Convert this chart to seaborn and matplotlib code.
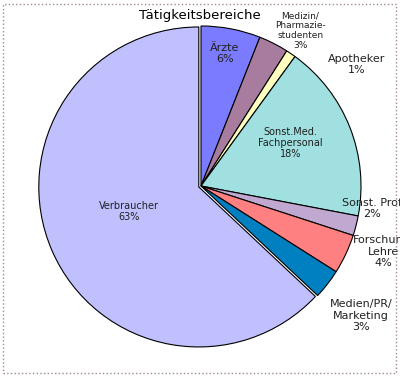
import matplotlib
matplotlib.use("Agg")
import matplotlib.pyplot as plt
import seaborn as sns
from matplotlib.patches import Rectangle

# Data
categories = ["Ärzte", "Medizin/\nPharmazie-\nstudenten", "Apotheker", "Sonst.Med.\nFachpersonal",
              "Sonst. Prof", "Forschung/\nLehre", "Medien/PR/\nMarketing", "Verbraucher"]
shares = [6, 3, 1, 18, 2, 4, 3, 63]
colors = ["#7b7bff", "#a87c9e", "#ffffc0", "#a0e0e0", "#c0a8d0", "#ff8080", "#0080c0", "#c0c0ff"]

# label layout (data coords of the pie axes) and font sizes
label_pos = [(0.15, 0.83), (0.62, 0.97), (0.97, 0.76), (0.56, 0.27),
             (1.07, -0.14), (1.14, -0.41), (1.00, -0.81), (-0.45, -0.16)]
label_size = [8, 6.5, 8, 7, 8, 8, 8, 7]
explode = [0, 0, 0, 0, 0, 0, 0, 0.015]

sns.set_theme(style="white")
plt.rcParams['font.family'] = ['DejaVu Sans']

fig = plt.figure(figsize=(4.0, 3.77), dpi=100)
r_px = 160
ax = fig.add_axes([(201 - r_px) / 400, (377 - 186 - r_px) / 377, 2 * r_px / 400, 2 * r_px / 377])
ax.pie(shares, colors=colors, startangle=90, counterclock=False, explode=explode,
       wedgeprops=dict(edgecolor="black", linewidth=0.8))
ax.set_xlim(-1, 1)
ax.set_ylim(-1, 1)
ax.set_aspect("equal")
ax.axis("off")

for name, val, (x, y), fs in zip(categories, shares, label_pos, label_size):
    ax.text(x, y, f"{name}\n{val}%", ha="center", va="center", fontsize=fs,
            color="#202020", linespacing=1.15, clip_on=False)

fig.text(0.5, 0.96, "Tätigkeitsbereiche", ha="center", va="center", fontsize=9.5, color="black")

# dotted frame
fig.patches.append(Rectangle((3 / 400, 4 / 377), 393 / 400, 369 / 377, transform=fig.transFigure,
                             fill=False, edgecolor="#a08898", linestyle=":", linewidth=1.0))

fig.savefig("out.png", dpi=100)
